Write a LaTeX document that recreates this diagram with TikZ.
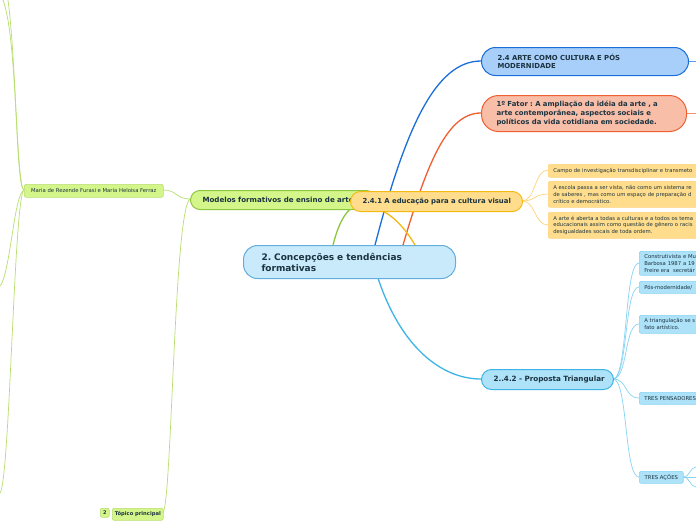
\documentclass[tikz,border=0pt]{standalone}
\usepackage{fontspec}
\setmainfont{DejaVu Sans}
\frenchspacing
\definecolor{txt}{HTML}{1C3340}
\definecolor{cenfill}{HTML}{C8EAFB}
\definecolor{cenline}{HTML}{62AEDF}
\definecolor{grfill}{HTML}{D4F58A}
\definecolor{grline}{HTML}{8DC63F}
\definecolor{grthin}{HTML}{B9DE70}
\definecolor{orfill}{HTML}{FFDD8C}
\definecolor{orline}{HTML}{F5B914}
\definecolor{orthin}{HTML}{FFD27A}
\definecolor{bdfill}{HTML}{A8CEFA}
\definecolor{bdline}{HTML}{1A6ED9}
\definecolor{safill}{HTML}{F8BEA8}
\definecolor{saline}{HTML}{F05F32}
\definecolor{ltfill}{HTML}{ADE2F8}
\definecolor{ltline}{HTML}{3CB4E6}
\definecolor{ltthin}{HTML}{86D4F4}
\begin{document}
\begin{tikzpicture}[x=1pt,y=-1pt,
  base/.style={draw, anchor=north west, inner ysep=0pt, align=left, text=txt},
  mainbox/.style={base, line width=1pt, font=\bfseries\fontsize{6.9}{8.5}\selectfont},
  leafbox/.style={base, line width=0.6pt, rounded corners=2pt, font=\fontsize{5.3}{6.8}\selectfont, inner xsep=5pt},
  greenleaf/.style={leafbox, fill=grfill, draw=grthin, align=center},
  orangeleaf/.style={leafbox, fill=orfill, draw=orthin},
  blueleaf/.style={leafbox, fill=ltfill, draw=ltthin},
  thick link/.style={line width=1.3pt},
  thin link/.style={line width=0.7pt}
]
\clip (0,0) rectangle (696,520);
\fill[white] (0,0) rectangle (696,520);

% free ends at the picture's border
\coordinate (tl1) at (3,0);
\coordinate (tl2) at (8,0);
\coordinate (ml1) at (0,286);
\coordinate (bl1) at (0,493);
\coordinate (r24) at (696,61);
\coordinate (rfa) at (696,113);
\coordinate (ra1) at (696,467);
\coordinate (ra2) at (696,477);
\coordinate (ra3) at (696,487);

% ---------- connectors ----------
\begin{scope}[line cap=round]
\draw[thick link, grline] (333,245) .. controls (338,225) and (345,212) .. (352,208);
\draw[thick link, bdline] (375,245) .. controls (405,130) and (435,61) .. (481,61);
\draw[thick link, saline] (403,245) .. controls (428,160) and (448,113) .. (481,113);
\draw[thick link, orline] (415,245) .. controls (405,228) and (392,214) .. (378,209);
\draw[thick link, ltline] (378,278) .. controls (400,345) and (440,379) .. (481,379);

% orange leaves
\draw[thin link, orthin] (522,201) .. controls (536,201) and (534,170) .. (548,170);
\draw[thin link, orthin] (522,201) .. controls (536,201) and (534,194) .. (548,194);
\draw[thin link, orthin] (522,201) .. controls (536,201) and (534,225) .. (548,225);

% light-blue leaves
\draw[thin link, ltthin] (613,379) .. controls (628,379) and (624,263) .. (639,263);
\draw[thin link, ltthin] (613,379) .. controls (628,379) and (624,287) .. (639,287);
\draw[thin link, ltthin] (613,379) .. controls (628,379) and (624,324) .. (639,324);
\draw[thin link, ltthin] (613,379) .. controls (628,379) and (624,398) .. (639,398);
\draw[thin link, ltthin] (613,379) .. controls (628,379) and (624,477) .. (639,477);
\draw[thin link, ltthin] (683,477) .. controls (690,477) and (690,467) .. (ra1);
\draw[thin link, ltthin] (683,477) -- (ra2);
\draw[thin link, ltthin] (683,477) .. controls (690,477) and (690,487) .. (ra3);

\draw[thin link, bdline!70] (688,61) -- (r24);
\draw[thin link, saline!70] (686,113) -- (rfa);

% green thin links
\draw[thin link, grthin] (163,190) .. controls (177,190) and (176,199) .. (190,199);
\draw[thin link, grthin] (163,513) .. controls (172,500) and (174,210) .. (190,199);
\draw[thin link, grthin] (24,190) .. controls (15,188) and (18,40) .. (tl1);
\draw[thin link, grthin] (24,190) .. controls (17,188) and (16,60) .. (tl2);
\draw[thin link, grthin] (24,190) .. controls (14,194) and (10,275) .. (ml1);
\draw[thin link, grthin] (24,190) .. controls (14,196) and (10,480) .. (bl1);
\end{scope}

% ---------- nodes ----------
\node[mainbox, fill=grfill, draw=grline, rounded corners=9.5pt, minimum width=185pt, minimum height=19pt, inner xsep=12pt, text width=161pt, font=\bfseries\fontsize{7.1}{8.5}\selectfont] (mod) at (190,190) {\mbox{Modelos formativos de ensino de arte}};
\node[mainbox, fill=orfill, draw=orline, rounded corners=10pt, minimum width=172pt, minimum height=20pt, inner xsep=12pt, text width=148pt] (edu) at (350,191) {\mbox{2.4.1 A educação para a cultura visual}};
\node[mainbox, fill=cenfill, draw=cenline, rounded corners=14pt, minimum width=212pt, minimum height=33pt, inner xsep=18pt, text width=176pt, font=\bfseries\fontsize{9}{11}\selectfont] (cen) at (243,245) {2. Concepções e tendências\\formativas};

\node[mainbox, fill=bdfill, draw=bdline, rounded corners=14pt, minimum width=207pt, minimum height=28pt, inner xsep=16pt, text width=175pt] (art) at (481,47) {2.4 ARTE COMO CULTURA E PÓS\\MODERNIDADE};
\node[mainbox, fill=safill, draw=saline, rounded corners=17pt, minimum width=205pt, minimum height=36pt, inner xsep=15pt, text width=175pt, font=\bfseries\fontsize{6.9}{9}\selectfont] (fat) at (481,95) {\mbox{1º Fator : A ampliação da idéia da arte , a}\\\mbox{arte contemporânea, aspectos sociais e}\\\mbox{políticos da vida cotidiana em sociedade.}};
\node[mainbox, fill=ltfill, draw=ltline, rounded corners=10pt, minimum width=132pt, minimum height=20pt, inner xsep=12pt, text width=108pt, font=\bfseries\fontsize{7.2}{8.5}\selectfont] (pro) at (481,369) {\mbox{2..4.2 - Proposta Triangular}};

\node[orangeleaf, minimum width=200pt, minimum height=13pt, text width=190pt] (o1) at (548,164) {Campo de investigação transdisciplinar e transmeto};
\node[orangeleaf, minimum width=200pt, minimum height=26pt, text width=190pt] (o2) at (548,181) {A escola passa a ser vista, não como um sistema re\\de saberes , mas como um espaço de preparação d\\crítico e democrático.};
\node[orangeleaf, minimum width=200pt, minimum height=26pt, text width=190pt] (o3) at (548,212) {A arte é aberta a todas a culturas e a todos os tema\\educacionais assim como questão de gênero o racis\\desigualdades socais de toda ordem.};

\node[blueleaf, minimum width=100pt, minimum height=24pt, text width=90pt] (b1) at (639,251) {Construtivista e Mu\\Barbosa 1987 a 19\\Freire era\ \ secretár};
\node[blueleaf, minimum width=100pt, minimum height=12pt, text width=90pt] (b2) at (639,281) {Pós-modernidade/};
\node[blueleaf, minimum width=100pt, minimum height=18pt, text width=90pt] (b3) at (639,315) {A triangulação se s\\fato artístico.};
\node[blueleaf, minimum width=100pt, minimum height=12pt, text width=90pt] (b4) at (639,392) {TRES PENSADORES};
\node[blueleaf, minimum width=44pt, minimum height=12pt, inner xsep=2pt, align=center] (b5) at (639,471) {TRES AÇÕES};

\node[greenleaf, minimum width=139pt, minimum height=13pt, inner xsep=2pt] (mar) at (24,184) {Maria de Rezende Furasi e Maria Heloisa Ferraz};
\node[greenleaf, minimum width=51pt, minimum height=12pt, inner xsep=2pt, font=\bfseries\fontsize{5.2}{6}\selectfont] (top) at (112,508) {Tópico principal};
\node[greenleaf, minimum width=9pt, minimum height=9pt, inner xsep=0pt, font=\bfseries\fontsize{5}{6}\selectfont] (bad) at (100,508) {2};
\end{tikzpicture}
\end{document}
